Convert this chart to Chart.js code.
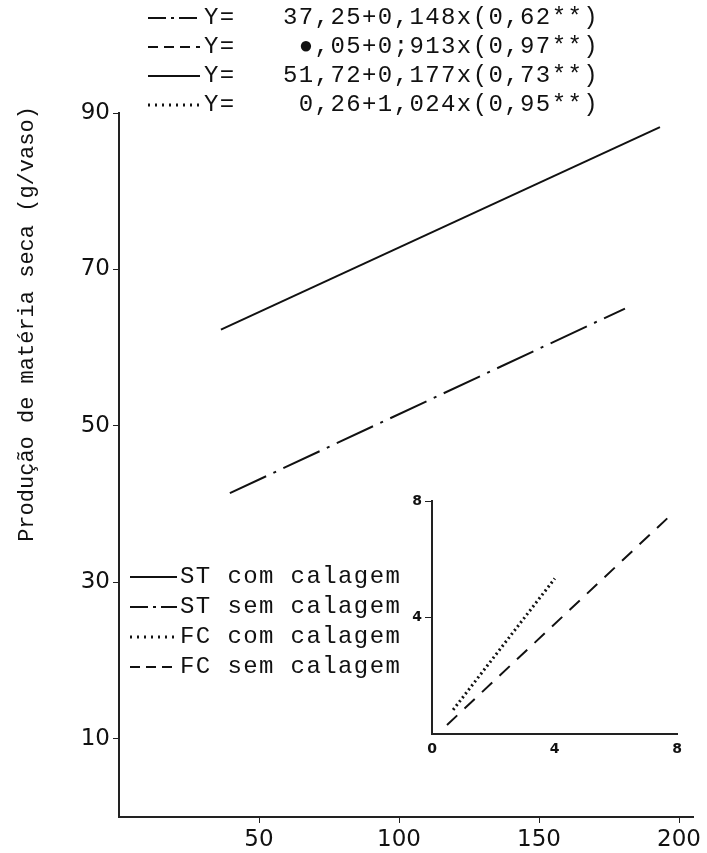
<!DOCTYPE html>
<html lang="pt">
  <head>
    <meta charset="UTF-8" />
    <title>Produção de matéria seca</title>
    <script src="https://cdn.jsdelivr.net/npm/chart.js"></script>
    <style>
      body { margin: 0; background: #fff; }
      #caixa { position: relative; width: 707px; height: 853px; }
      #detalhe { position: absolute; left: 380px; top: 470px; }
    </style>
  </head>
  <body>
    <div id="caixa">
      <canvas id="grafica" width="707" height="853"></canvas>
      <canvas id="detalhe" width="320" height="320"></canvas>
    </div>

    <script>
      // dados
      const stComX = [36.4, 193.2];
      const stComY = [62.3, 88.2];
      const stSemX = [39.6, 180.7];
      const stSemY = [41.4, 65.0];
      const fcComX = [0.69, 4.01];
      const fcComY = [0.83, 5.34];
      const fcSemX = [0.49, 7.83];
      const fcSemY = [0.31, 7.55];

      const ticksX = [50, 100, 150, 200];
      const ticksY = [10, 30, 50, 70, 90];
      const ticksDetalheX = [0, 4, 8];
      const ticksDetalheY = [4, 8];

      const legendas = ["ST com calagem", "ST sem calagem", "FC com calagem", "FC sem calagem"];
      const equacoes = [
        "Y=   37,25+0,148x(0,62**)",
        "Y=    ●,05+0;913x(0,97**)",
        "Y=   51,72+0,177x(0,73**)",
        "Y=    0,26+1,024x(0,95**)",
      ];
      const tituloY = "Produção de matéria seca (g/vaso)";

      // estilo das linhas: tracejado no grafico e na amostra da legenda
      const estilos = {
        cheia: { dash: [], amostra: [], w: 2 },
        tracoPonto: { dash: [40, 8, 3, 8], amostra: [18, 5, 3, 5], w: 2 },
        pontilhada: { dash: [2, 3], amostra: [2, 5], w: 3 },
        tracejada: { dash: [14, 10], amostra: [10, 6], w: 2 },
      };
      const estiloLegenda = ["cheia", "tracoPonto", "pontilhada", "tracejada"];
      const estiloEquacao = ["tracoPonto", "tracejada", "cheia", "pontilhada"];

      const pares = (xs, ys) => xs.map((x, i) => ({ x: x, y: ys[i] }));
      const fonteMono = "Liberation Mono";
      const fonteEixo = "DejaVu Sans";

      function amostra(ctx, x1, x2, y, nome) {
        const e = estilos[nome];
        ctx.save();
        ctx.strokeStyle = "#111";
        ctx.lineWidth = e.w;
        ctx.setLineDash(e.amostra);
        ctx.beginPath();
        ctx.moveTo(x1, y);
        ctx.lineTo(x2, y);
        ctx.stroke();
        ctx.restore();
      }

      const textos = {
        id: "textos",
        afterDraw(chart) {
          const ctx = chart.ctx;
          ctx.save();
          ctx.fillStyle = "#111";
          ctx.textBaseline = "middle";
          ctx.font = "24px '" + fonteMono + "'";
          if ("letterSpacing" in ctx) ctx.letterSpacing = "1.4px";
          equacoes.forEach((t, i) => {
            const y = 18 + i * 29;
            amostra(ctx, 148, 200, y, estiloEquacao[i]);
            ctx.fillText(t, 204, y);
          });
          legendas.forEach((t, i) => {
            const y = 577 + i * 30;
            amostra(ctx, 130, 177, y, estiloLegenda[i]);
            ctx.fillText(t, 180, y);
          });
          // titulo do eixo y
          ctx.translate(27, 324);
          ctx.rotate(-Math.PI / 2);
          ctx.textAlign = "center";
          ctx.font = "22px '" + fonteMono + "'";
          if ("letterSpacing" in ctx) ctx.letterSpacing = "0px";
          ctx.fillText(tituloY, 0, 0);
          ctx.restore();
        },
      };

      const fundo = {
        id: "fundo",
        beforeDraw(chart) {
          const ctx = chart.ctx;
          ctx.save();
          ctx.fillStyle = "#fff";
          ctx.fillRect(0, 0, chart.width, chart.height);
          ctx.restore();
        },
      };

      function linha(xs, ys, nome) {
        const e = estilos[nome];
        return {
          data: pares(xs, ys),
          showLine: true,
          borderColor: "#111",
          borderWidth: e.w,
          borderDash: e.dash,
          pointRadius: 0,
          fill: false,
        };
      }

      new Chart(document.getElementById("grafica"), {
        type: "scatter",
        data: {
          datasets: [
            linha(stComX, stComY, "cheia"),
            linha(stSemX, stSemY, "tracoPonto"),
          ],
        },
        options: {
          responsive: false,
          animation: false,
          devicePixelRatio: 1,
          layout: { padding: { left: 0, right: 14, top: 113, bottom: 0 } },
          plugins: { legend: { display: false }, tooltip: { enabled: false } },
          scales: {
            x: {
              type: "linear",
              min: 0,
              max: 205,
              afterBuildTicks: (s) => { s.ticks = ticksX.map((v) => ({ value: v })); },
              afterFit: (s) => { s.height = 36; },
              grid: { drawOnChartArea: false, color: "#222", tickLength: 6 },
              border: { color: "#222", width: 2 },
              ticks: { color: "#111", padding: 3, maxRotation: 0, font: { family: fonteEixo, size: 23 } },
            },
            y: {
              min: 0,
              max: 90,
              afterBuildTicks: (s) => { s.ticks = ticksY.map((v) => ({ value: v })); },
              afterFit: (s) => { s.width = 119; },
              grid: { drawOnChartArea: false, color: "#222", tickLength: 6 },
              border: { color: "#222", width: 2 },
              ticks: { color: "#111", padding: 3, font: { family: fonteEixo, size: 23 } },
            },
          },
        },
        plugins: [fundo, textos],
      });

      // grafico inserido (FC)
      new Chart(document.getElementById("detalhe"), {
        type: "scatter",
        data: {
          datasets: [
            linha(fcComX, fcComY, "pontilhada"),
            linha(fcSemX, fcSemY, "tracejada"),
          ],
        },
        options: {
          responsive: false,
          animation: false,
          devicePixelRatio: 1,
          layout: { padding: { left: 0, right: 23, top: 31, bottom: 0 } },
          plugins: { legend: { display: false }, tooltip: { enabled: false } },
          scales: {
            x: {
              type: "linear",
              min: 0,
              max: 8,
              afterBuildTicks: (s) => { s.ticks = ticksDetalheX.map((v) => ({ value: v })); },
              afterFit: (s) => { s.height = 56; },
              grid: { drawOnChartArea: false, drawTicks: false },
              border: { color: "#222", width: 2 },
              ticks: { color: "#111", padding: 7, maxRotation: 0, font: { family: fonteEixo, size: 14, weight: "bold" } },
            },
            y: {
              min: 0,
              max: 8,
              afterBuildTicks: (s) => { s.ticks = ticksDetalheY.map((v) => ({ value: v })); },
              afterFit: (s) => { s.width = 52; },
              grid: { drawOnChartArea: false, color: "#222", tickLength: 7 },
              border: { color: "#222", width: 2 },
              ticks: { color: "#111", padding: 3, font: { family: fonteEixo, size: 14, weight: "bold" } },
            },
          },
        },
      });
    </script>
  </body>
</html>
